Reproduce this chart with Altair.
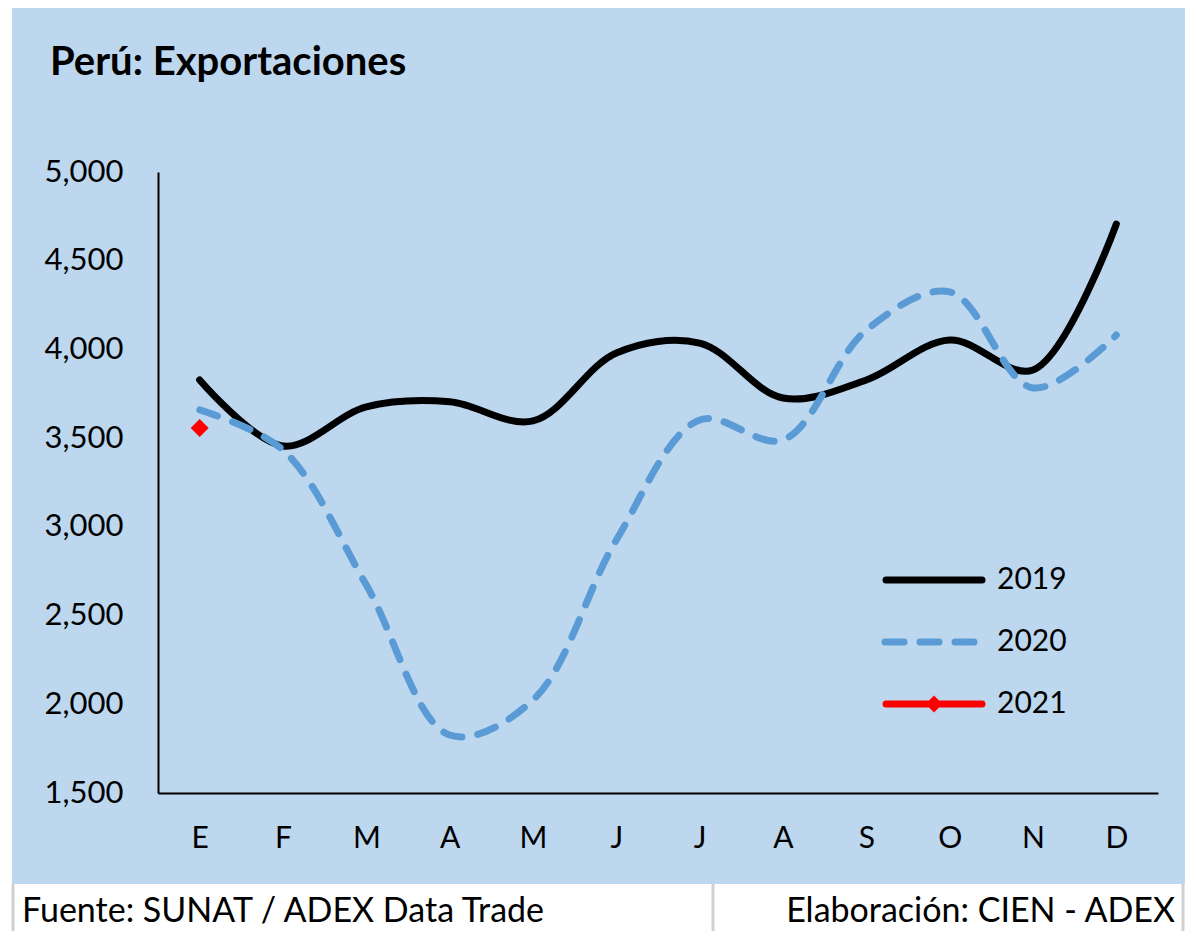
import altair as alt
import pandas as pd

meses = ["E", "F", "M", "A", "M", "J", "J", "A", "S", "O", "N", "D"]
v2019 = [3828, 3456, 3676, 3705, 3597, 3980, 4036, 3726, 3828, 4053, 3884, 4707]
v2020 = [3659, 3433, 2672, 1827, 2024, 2926, 3602, 3490, 4109, 4324, 3783, 4081]
v2021 = [3557]
y_ticks = [1500, 2000, 2500, 3000, 3500, 4000, 4500, 5000]

FONT = "Lato"
BLUE_BG = "#BDD7EE"

df19 = pd.DataFrame({"mes": list(range(12)), "valor": v2019})
df20 = pd.DataFrame({"mes": list(range(12)), "valor": v2020})
df21 = pd.DataFrame({"mes": list(range(len(v2021))), "valor": v2021})
one = pd.DataFrame({"a": [0]})

label_expr = "[" + ",".join("'%s'" % m for m in meses) + "][datum.value]"

x_enc = alt.X(
    "mes:O",
    scale=alt.Scale(domain=list(range(12)), padding=0.5),
    axis=alt.Axis(
        title=None, labelExpr=label_expr, labelAngle=0, ticks=False,
        labelPadding=30, labelFontSize=30, labelFont=FONT, labelColor="black",
        domainColor="black", domainWidth=2, grid=False, zindex=1,
    ),
)
y_enc = alt.Y(
    "valor:Q",
    scale=alt.Scale(domain=[1500, 5000], nice=False, zero=False),
    axis=alt.Axis(
        title=None, values=y_ticks, format=",.0f", ticks=False, labelPadding=35,
        labelFontSize=31, labelFont=FONT, labelColor="black",
        domainColor="black", domainWidth=2, grid=False, zindex=1,
    ),
)

bg = alt.Chart(one).mark_rect(color=BLUE_BG).encode(
    x=alt.value(-146), x2=alt.value(1027), y=alt.value(-168), y2=alt.value(712)
)

line19 = alt.Chart(df19).mark_line(
    color="black", strokeWidth=7, interpolate="catmull-rom", strokeCap="round"
).encode(x=x_enc, y=y_enc)

line20 = alt.Chart(df20).mark_line(
    color="#5B9BD5", strokeWidth=7, interpolate="catmull-rom",
    strokeCap="round", strokeDash=[19, 16]
).encode(x="mes:O", y="valor:Q")

pt21 = alt.Chart(df21).mark_point(
    shape="diamond", filled=True, size=324, color="#FF0000", opacity=1
).encode(x="mes:O", y="valor:Q")

# manual legend
leg_years = ["2019", "2020", "2021"]
leg_y = [408, 470, 532]
leg19 = alt.Chart(one).mark_rule(color="black", strokeWidth=7, strokeCap="round").encode(
    x=alt.value(728), x2=alt.value(824), y=alt.value(leg_y[0]))
leg20 = alt.Chart(one).mark_rule(color="#5B9BD5", strokeWidth=7, strokeCap="round",
                                 strokeDash=[19, 16]).encode(
    x=alt.value(727), x2=alt.value(816), y=alt.value(leg_y[1]))
leg21 = alt.Chart(one).mark_rule(color="#FF0000", strokeWidth=7, strokeCap="round").encode(
    x=alt.value(728), x2=alt.value(824), y=alt.value(leg_y[2]))
leg21pt = alt.Chart(one).mark_point(shape="diamond", filled=True, size=290,
                                    color="#FF0000", opacity=1).encode(
    x=alt.value(776), y=alt.value(leg_y[2]))
leg_txt = [
    alt.Chart(one).mark_text(text=t, align="left", baseline="middle", fontSize=30,
                             font=FONT, color="black").encode(
        x=alt.value(839), y=alt.value(yy))
    for t, yy in zip(leg_years, leg_y)
]

title = alt.Chart(one).mark_text(
    text="Perú: Exportaciones", align="left", baseline="middle", fontSize=40,
    font=FONT, fontWeight="bold", color="black"
).encode(x=alt.value(-108), y=alt.value(-109))

footer_l = alt.Chart(one).mark_text(
    text="Fuente: SUNAT / ADEX Data Trade", align="left", baseline="middle",
    fontSize=34, font=FONT, color="black"
).encode(x=alt.value(-136), y=alt.value(740))
footer_r = alt.Chart(one).mark_text(
    text="Elaboración: CIEN - ADEX", align="right", baseline="middle",
    fontSize=34, font=FONT, color="black"
).encode(x=alt.value(1017), y=alt.value(740))

sep = [
    alt.Chart(one).mark_rule(color="#D0D0D0", strokeWidth=3).encode(
        x=alt.value(xx), y=alt.value(712), y2=alt.value(760))
    for xx in [-145, 555, 1025]
]

chart = alt.layer(
    bg, line19, line20, pt21, leg19, leg20, leg21, leg21pt, *leg_txt,
    title, footer_l, footer_r, *sep
).properties(
    width=1000, height=621,
    autosize=alt.AutoSizeParams(type="none"),
    padding={"left": 150, "top": 164, "right": 31, "bottom": 138},
    background="white",
).configure_view(strokeWidth=0)

chart.save("out.html", embed_options={"renderer": "svg", "actions": False})
